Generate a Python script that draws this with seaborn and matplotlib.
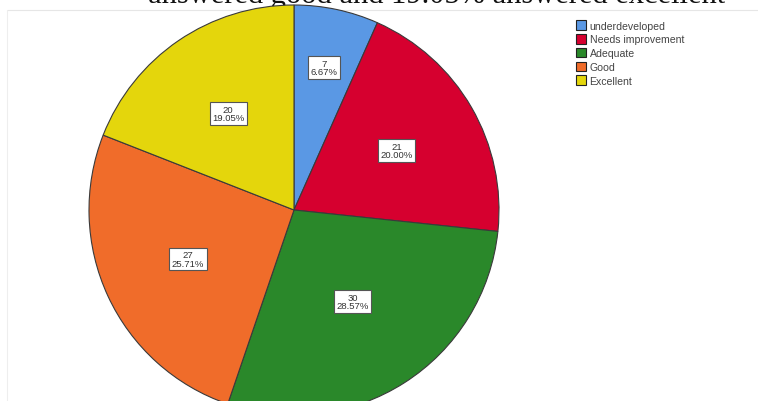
import numpy as np
import matplotlib
matplotlib.use("Agg")
import matplotlib.pyplot as plt
import seaborn as sns
from matplotlib.patches import Patch

sns.set_theme(style="white")
plt.rcParams['font.family'] = ['Liberation Sans', 'DejaVu Sans']

categories = ["underdeveloped", "Needs improvement", "Adequate", "Good", "Excellent"]
counts = [7, 21, 30, 27, 20]
percents = ["6.67%", "20.00%", "28.57%", "25.71%", "19.05%"]
colors = ["#5a98e4", "#d6002f", "#2a882a", "#f06c2a", "#e4d60c"]
label_dist = [0.71, 0.58, 0.53, 0.57, 0.57]
caption = "answered good and 19.05% answered excellent"

W, H = 758, 402
fig = plt.figure(figsize=(W / 100, H / 100), dpi=100)
fig.patch.set_facecolor("white")

# faint chart frame
frame = fig.add_axes([0, 0, 1, 1], zorder=0)
frame.set_xlim(0, W)
frame.set_ylim(H, 0)
frame.axis("off")
frame.plot([7, W], [11, 11], color="#e6e6e6", lw=0.8)
frame.plot([7, 7], [11, H], color="#eeeeee", lw=0.8)
frame.text(437, 3, caption, family="Liberation Serif", fontsize=22,
           ha="center", va="baseline", color="#111111")

cx, cy, r = 294, 211, 205
ax = fig.add_axes([(cx - r) / W, (H - cy - r) / H, 2 * r / W, 2 * r / H], zorder=1)
wedges, _ = ax.pie(counts, colors=colors, startangle=90, counterclock=False,
                   radius=1, wedgeprops=dict(edgecolor="#3a3a3a", linewidth=0.8))
ax.set_xlim(-1, 1)
ax.set_ylim(-1, 1)
ax.axis("off")

for w, c, p, d in zip(wedges, counts, percents, label_dist):
    ang = np.deg2rad((w.theta1 + w.theta2) / 2)
    ax.text(d * np.cos(ang), d * np.sin(ang), f"{c}\n{p}", ha="center", va="center",
            fontsize=6.8, color="#333333", linespacing=0.95,
            bbox=dict(boxstyle="square,pad=0.25", fc="white", ec="#555555", lw=0.8))

handles = [Patch(facecolor=col, edgecolor="#222222", lw=0.8, label=cat)
           for cat, col in zip(categories, colors)]
leg = fig.legend(handles=handles, loc="upper left", bbox_to_anchor=(569 / W, 1 - 14 / H),
                 frameon=False, fontsize=7.6, handlelength=0.9, handleheight=1.0,
                 handletextpad=0.35, labelspacing=0.32, borderpad=0.2)
for t in leg.get_texts():
    t.set_color("#444444")

fig.savefig("out.png", dpi=100)
